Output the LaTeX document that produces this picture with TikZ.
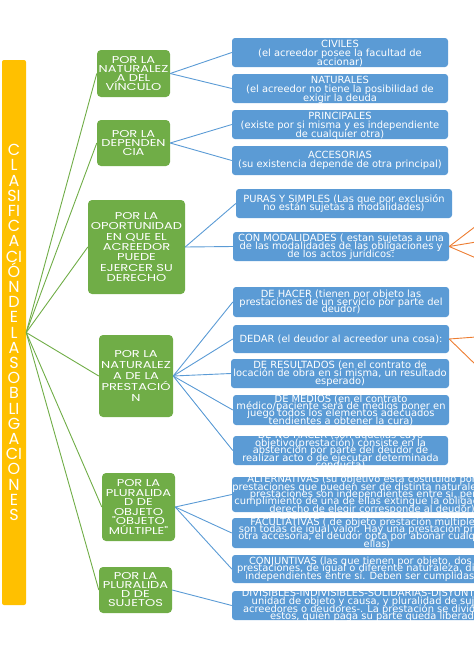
\documentclass[tikz,border=0pt]{standalone}
\usepackage{fontspec}
\setmainfont{DejaVu Sans}
\newfontfamily\gothic[FakeStretch=1.3]{Poppins}
\newfontfamily\bargothic{Poppins}
\usepackage{tikz}
\definecolor{barorange}{HTML}{FFC000}
\definecolor{boxgreen}{HTML}{70AD47}
\definecolor{boxblue}{HTML}{5B9BD5}
\definecolor{lineorange}{HTML}{ED7D31}
\newcommand{\tightleading}{\lineskiplimit=-20pt\relax}

\begin{document}
\begin{tikzpicture}[x=1pt,y=-1pt,
  gbox/.style={fill=boxgreen,rounded corners=4pt,text=white,align=center,inner sep=1pt,
    font=\gothic\fontsize{10}{9}\selectfont\tightleading},
  bbox/.style={fill=boxblue,rounded corners=3pt,inner sep=0pt},
  btext/.style={text=white,align=center,inner sep=0pt,
    font=\fontsize{9.9}{#1}\selectfont\tightleading},
  btext/.default=8.8,
  gline/.style={draw=boxgreen,line width=0.9pt},
  bline/.style={draw=boxblue,line width=0.9pt},
  oline/.style={draw=lineorange,line width=0.9pt}]
\useasboundingbox (0,0) rectangle (474,670);
\clip (0,0) rectangle (474,670);

% left bar
\node[fill=barorange,rounded corners=2pt,minimum width=24pt,minimum height=545pt,inner sep=0pt] (bar) at (14,332.5) {};
\node[text=white,align=center,inner sep=0pt,font=\bargothic\fontsize{16}{15.2}\selectfont] (bartext) at (bar)
  {C\\L\\A\\SI\\FI\\C\\A\\CI\\Ó\\N\\D\\E\\L\\A\\S\\O\\B\\LI\\G\\A\\CI\\O\\N\\E\\S};
\coordinate (hub) at (bar.east);

% criteria
\node[gbox,minimum width=73pt,minimum height=47pt] (natv) at (133.5,73.5) {POR LA\\NATURALEZ\\A DEL\\VÍNCULO};
\node[gbox,minimum width=73pt,minimum height=46pt] (dep) at (133.5,143) {POR LA\\DEPENDEN\\CIA};
\node[gbox,minimum width=97pt,minimum height=94pt,font=\gothic\fontsize{10}{10.4}\selectfont\tightleading] (opo) at (136.5,247)
  {POR LA\\OPORTUNIDAD\\EN QUE EL\\ACREEDOR\\PUEDE\\EJERCER SU\\DERECHO};
\node[gbox,minimum width=74pt,minimum height=82pt,font=\gothic\fontsize{10}{10.8}\selectfont\tightleading] (natp) at (136,376)
  {POR LA\\NATURALEZ\\A DE LA\\PRESTACIÓ\\N};
\node[gbox,minimum width=73pt,minimum height=68pt,font=\gothic\fontsize{10}{9.6}\selectfont\tightleading] (plo) at (138.5,507)
  {POR LA\\PLURALIDA\\D DE\\OBJETO\\"OBJETO\\MÚLTIPLE"};
\node[gbox,minimum width=73pt,minimum height=46pt] (pls) at (135.5,590) {POR LA\\PLURALIDA\\D DE\\SUJETOS};

% kinds
\node[bbox,minimum width=216pt,minimum height=29pt] (civ) at (340,52.5) {};
\node[btext=9] at ([yshift=-1pt]civ) {CIVILES\\(el acreedor posee la facultad de\\accionar)};
\node[bbox,minimum width=216pt,minimum height=29pt] (nat) at (340,88.5) {};
\node[btext=9] at ([yshift=-1pt]nat) {NATURALES\\(el acreedor no tiene la posibilidad de\\exigir la deuda};
\node[bbox,minimum width=216pt,minimum height=29pt] (pri) at (340,124.5) {};
\node[btext=9] at ([yshift=-1pt]pri) {PRINCIPALES\\(existe por si misma y es independiente\\de cualquier otra)};
\node[bbox,minimum width=216pt,minimum height=29pt] (acc) at (340,160.5) {};
\node[btext=9] at (acc) {ACCESORIAS\\(su existencia depende de otra principal)};
\node[bbox,minimum width=216pt,minimum height=29pt] (pur) at (344,203.5) {};
\node[btext] at (pur) {PURAS Y SIMPLES (Las que por exclusión\\no están sujetas a modalidades)};
\node[bbox,minimum width=216pt,minimum height=29pt] (mod) at (341,246.5) {};
\node[btext=8] at (mod) {CON MODALIDADES ( estan sujetas a una\\de las modalidades de las obligaciones y\\de los actos jurídicos:};
\node[bbox,minimum width=216pt,minimum height=30pt] (hac) at (341,302) {};
\node[btext=7.8] at (hac) {DE HACER (tienen por objeto las\\prestaciones de un servicio por parte del\\deudor)};
\node[bbox,minimum width=216pt,minimum height=28pt] (dar) at (341,339) {};
\node[btext] at (dar) {DEDAR (el deudor al acreedor una cosa):};
\node[bbox,minimum width=218pt,minimum height=29pt] (res) at (340,373.5) {};
\node[btext=8] at (res) {DE RESULTADOS (en el contrato de\\locación de obra en sí misma, un resultado\\esperado)};
\node[bbox,minimum width=216pt,minimum height=30pt] (med) at (341,410) {};
\node[btext=7.4] at (med) {DE MEDIOS (en el contrato\\médico/paciente será de medios poner en\\juego todos los elementos adecuados\\tendientes a obtener la cura)};
\node[bbox,minimum width=215pt,minimum height=29pt] (noh) at (340.5,450.5) {};
\node[btext=7.5] at (noh) {DE NO HACER (son aquellas cuyo\\objetivo(prestación) consiste en la\\abstención por parte del deudor de\\realizar acto o de ejecutar determinada\\conducta)};
\node[bbox,minimum width=280pt,minimum height=35pt] (alt) at (372,494.5) {};
\node[btext=7.3] at (alt) {ALTERNATIVAS (su objetivo está costituido por dos\\prestaciones que pueden ser de distinta naturaleza. Las\\prestaciones son independientes entre sí, pero el\\cumplimiento de una de ellas extingue la obligación. El\\derecho de elegir corresponde al deudor)};
\node[bbox,minimum width=290pt,minimum height=30pt] (fac) at (377,533) {};
\node[btext=7.2] at (fac) {FACULTATIVAS ( de objeto prestación múltiple, pero\\son todas de igual valor. Hay una prestación principal y\\otra accesoria, el deudor opta por abonar cualquiera de\\ellas)};
\node[bbox,minimum width=290pt,minimum height=28pt] (con) at (377,569) {};
\node[btext=7.5] at (con) {CONJUNTIVAS (las que tienen por objeto, dos o más\\prestaciones, de igual o diferente naturaleza, distintas e\\independientes entre sí. Deben ser cumplidas todas)};
\node[bbox,minimum width=290pt,minimum height=29pt] (div) at (377,605.5) {};
\node[btext=7.8] at (div) {DIVISIBLES-INDIVISIBLES-SOLIDARIAS-DISYUNTAS (hay\\unidad de objeto y causa, y pluralidad de sujetos -\\acreedores o deudores-. La prestación se divide entre\\estos, quien paga su parte queda liberado)};

% connectors
\foreach \g in {natv,dep,opo,natp,plo,pls}
  \draw[gline] (hub) -- (\g.west);
\draw[bline] (natv.east) -- (civ.west);
\draw[bline] (natv.east) -- (nat.west);
\draw[bline] (dep.east) -- (pri.west);
\draw[bline] (dep.east) -- (acc.west);
\draw[bline] (opo.east) -- (pur.west);
\draw[bline] (opo.east) -- (mod.west);
\foreach \b in {hac,dar,res,med,noh}
  \draw[bline] (natp.east) -- (\b.west);
\foreach \b in {alt,fac,con}
  \draw[bline] (plo.east) -- (\b.west);
\draw[bline] (pls.east) -- (div.west);

% orange branches leaving the page
\coordinate (m1) at (476,226);
\coordinate (m2) at (476,242);
\coordinate (m3) at (476,258);
\coordinate (d1) at (476,337);
\coordinate (d2) at (476,365);
\foreach \o in {m1,m2,m3}
  \draw[oline] (mod.east) -- (\o);
\draw[oline] (dar.east) -- (d1);
\draw[oline] (dar.east) -- (d2);
\end{tikzpicture}
\end{document}
